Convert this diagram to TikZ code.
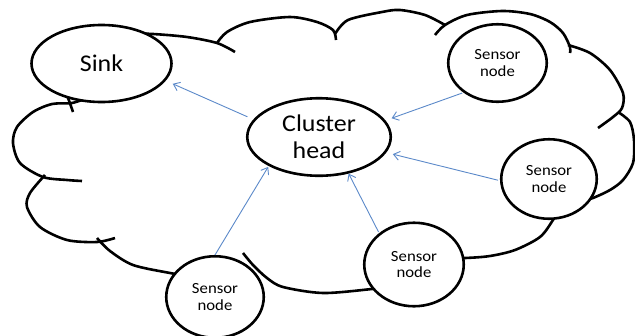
\documentclass[tikz,border=0pt]{standalone}
\usepackage{fontspec}
\setmainfont{Carlito}[FakeStretch=1.08]
\usetikzlibrary{shapes.geometric,arrows.meta}
\definecolor{linkblue}{RGB}{91,137,201}
\begin{document}
\begin{tikzpicture}[x=1pt,y=-1pt,
  outline/.style={line width=2.6pt,black},
  cloudarc/.style={outline,line join=round},
  blob/.style={ellipse,draw,outline,fill=white,inner sep=0pt,align=center},
  bignode/.style={blob,font=\fontsize{24}{27}\selectfont},
  sensornode/.style={blob,font=\fontsize{15.5}{16.5}\selectfont},
  link/.style={linkblue,line width=0.9pt,-{Straight Barb[length=6pt,width=9pt]}}]
\useasboundingbox (0,0) rectangle (635,335);

% cloud outline, one puff at a time (ends that run inside are covered by the nodes)
\draw[cloudarc] plot[smooth] coordinates {(62,85) (68,98) (73,112)};
\draw[cloudarc] plot[smooth] coordinates {(120,33) (153,34) (187,37) (217,43) (235,52)};
\draw[cloudarc] plot[smooth] coordinates {(217,43) (227,32) (250,22) (290,17) (317,22) (333,30) (336,40)};
\draw[cloudarc] plot[smooth] coordinates {(335,34) (348,20) (382,12) (400,10) (425,15) (445,25)};
\draw[cloudarc] plot[smooth] coordinates {(435,35) (445,25) (467,15) (502,11) (530,14) (550,22) (563,33) (570,47) (570,53)};
\draw[cloudarc] plot[smooth] coordinates {(568,45) (590,53) (610,70) (623,93) (622,108) (613,117) (598,128)};
\draw[cloudarc] plot[smooth] coordinates {(618,112) (630,122) (634,140) (633,163) (623,180) (610,190) (593,198) (580,202)};
\draw[cloudarc] plot[smooth] coordinates {(562,205) (553,220) (540,237) (515,250) (490,256) (465,258) (440,258)};
\draw[cloudarc] plot[smooth] coordinates {(395,286) (372,289) (323,293) (283,287) (267,278) (253,265) (243,253)};
\draw[cloudarc] plot[smooth] coordinates {(97,238) (110,251) (133,265) (170,273) (200,278)};
\draw[cloudarc] plot[smooth] coordinates {(45,175) (30,193) (27,207) (40,227) (67,240) (97,242) (115,238)};
\draw[cloudarc] plot[smooth] coordinates {(90,97) (72,103) (52,104) (33,112) (17,127) (13,143) (20,163) (43,177) (67,180) (82,181)};

% nodes
\node[bignode, minimum width=140pt, minimum height=77pt] (sink) at (101.5,63.5) {Sink};
\node[bignode, minimum width=143.5pt, minimum height=77.5pt] (ch) at (319,137) {Cluster\\head};
\node[sensornode, minimum width=98.5pt, minimum height=77.5pt] (s1) at (497.5,63) {Sensor\\node};
\node[sensornode, minimum width=95.5pt, minimum height=79.5pt] (s2) at (549,179) {Sensor\\node};
\node[sensornode, minimum width=99.5pt, minimum height=83.5pt] (s3) at (414,264.5) {Sensor\\node};
\node[sensornode, minimum width=97.5pt, minimum height=81.5pt] (s4) at (215,297) {Sensor\\node};

% links
\draw[link, shorten <=6.5pt, shorten >=7.6pt] (ch.165.2) -- (sink.-15.3);
\draw[link, shorten <=1.3pt, shorten >=6.5pt] (s1.-139.8) -- (ch.14.8);
\draw[link, shorten <=2pt, shorten >=6.7pt] (s2.-178) -- (ch.-13.9);
\draw[link, shorten <=1.3pt] (s3.138.4) -- (ch.-51.3);
\draw[link, shorten >=1pt] (s4.90) -- (ch.-150.9);
\end{tikzpicture}
\end{document}
